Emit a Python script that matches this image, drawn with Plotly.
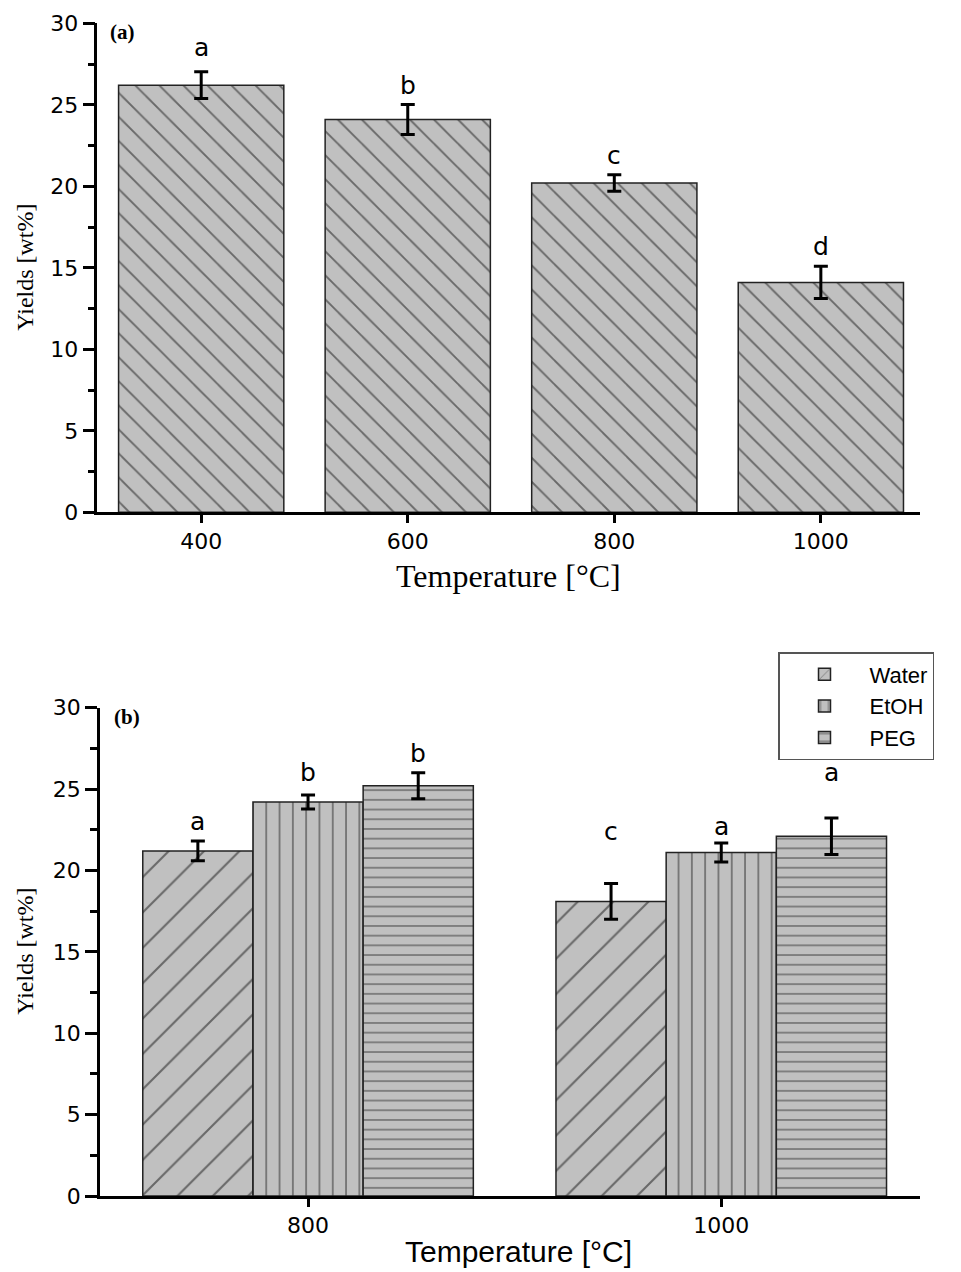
import plotly.graph_objects as go

# ---------------- data ----------------
temps_a = [400, 600, 800, 1000]
yield_a = [26.2, 24.1, 20.2, 14.1]
err_a = [0.82, 0.92, 0.51, 0.99]
letters_a = ["a", "b", "c", "d"]
label_y_a = [28.5, 26.2, 21.9, 16.3]

temps_b = [800, 1000]
series_names = ["Water", "EtOH", "PEG"]
yield_water = [21.2, 18.1]
yield_etoh = [24.2, 21.1]
yield_peg = [25.2, 22.1]
err_water = [0.61, 1.1]
err_etoh = [0.43, 0.58]
err_peg = [0.8, 1.12]
letters_water = ["a", "c"]
letters_etoh = ["b", "a"]
letters_peg = ["b", "a"]
label_y_water = [23.0, 22.4]
label_y_etoh = [26.0, 22.7]
label_y_peg = [27.2, 26.0]

y_ticks = [0, 5, 10, 15, 20, 25, 30]

# ---------------- styling ----------------
W, H = 961, 1272
OFF = 8  # page body margin offset


def fx(px):
    return (px - OFF) / W


def fy(py):
    return 1 - (py - OFF) / H


BARGAP = 0.2
FILL = "#c0c0c0"
HATCH = "#111111"
SANS = "DejaVu Sans"
ARIAL = "Liberation Sans"
SERIF = "Liberation Serif"

fig = go.Figure()

# top panel
fig.add_trace(go.Bar(
    x=temps_a, y=yield_a, xaxis="x", yaxis="y", showlegend=False,
    marker=dict(color=FILL, line=dict(color="#222", width=1.5),
                pattern=dict(shape="\\", bgcolor=FILL, fgcolor=HATCH,
                             size=17, solidity=0.11)),
    error_y=dict(type="data", array=err_a, color="black", thickness=3, width=7),
))

patterns = [("/", 25, 0.085), ("|", 13.3, 0.12), ("-", 9.7, 0.15)]
yb = [yield_water, yield_etoh, yield_peg]
eb = [err_water, err_etoh, err_peg]
for name, ys, es, (shape, size, sol) in zip(series_names, yb, eb, patterns):
    fig.add_trace(go.Bar(
        x=temps_b, y=ys, name=name, xaxis="x2", yaxis="y2",
        marker=dict(color=FILL, line=dict(color="#222", width=1.5),
                    pattern=dict(shape=shape, bgcolor=FILL, fgcolor=HATCH,
                                 size=size, solidity=sol)),
        error_y=dict(type="data", array=es, color="black", thickness=3, width=7),
    ))

annotations = []
for t, lab, ly in zip(temps_a, letters_a, label_y_a):
    annotations.append(dict(x=t, y=ly, xref="x", yref="y", text=lab, showarrow=False,
                            font=dict(family=SANS, size=25, color="black"),
                            xanchor="center", yanchor="middle"))

bar_w = (temps_b[1] - temps_b[0]) * (1 - BARGAP) / len(series_names)
labs_b = [letters_water, letters_etoh, letters_peg]
laby_b = [label_y_water, label_y_etoh, label_y_peg]
for i, (labs, lys) in enumerate(zip(labs_b, laby_b)):
    for t, lab, ly in zip(temps_b, labs, lys):
        annotations.append(dict(x=t + (i - 1) * bar_w, y=ly, xref="x2", yref="y2", text=lab,
                                showarrow=False, font=dict(family=SANS, size=25, color="black"),
                                xanchor="center", yanchor="middle"))

# titles / panel labels
annotations += [
    dict(text="Yields [wt%]", textangle=-90, xref="paper", x=fx(25), yref="y domain", y=0.5,
         xanchor="center", yanchor="middle", showarrow=False,
         font=dict(family=SERIF, size=24, color="black")),
    dict(text="Yields [wt%]", textangle=-90, xref="paper", x=fx(25), yref="y2 domain", y=0.5,
         xanchor="center", yanchor="middle", showarrow=False,
         font=dict(family=SERIF, size=24, color="black")),
    dict(text="Temperature [°C]", xref="x domain", x=0.5, yref="paper", y=fy(576),
         xanchor="center", yanchor="middle", showarrow=False,
         font=dict(family=SERIF, size=32, color="black")),
    dict(text="Temperature [°C]", xref="x2 domain", x=0.51, yref="paper", y=fy(1251),
         xanchor="center", yanchor="middle", showarrow=False,
         font=dict(family=ARIAL, size=30, color="black")),
    dict(text="<b>(a)</b>", xref="paper", x=fx(122), yref="paper", y=fy(32),
         xanchor="center", yanchor="middle", showarrow=False,
         font=dict(family=SERIF, size=21, color="black")),
    dict(text="<b>(b)</b>", xref="paper", x=fx(127), yref="paper", y=fy(717),
         xanchor="center", yanchor="middle", showarrow=False,
         font=dict(family=SERIF, size=21, color="black")),
]

yaxis_common = dict(
    range=[0, 30], tickvals=y_ticks, ticks="outside", ticklen=12, tickwidth=2.5,
    tickcolor="black", showline=True, linecolor="black", linewidth=2.5,
    showgrid=False, zeroline=False, tickfont=dict(family=SANS, size=22, color="black"),
    minor=dict(dtick=2.5, ticks="outside", ticklen=7, tickwidth=2.5, tickcolor="black"),
    automargin=False,
)
xaxis_common = dict(
    ticks="outside", ticklen=8, tickwidth=2.5, tickcolor="black", showline=True,
    linecolor="black", linewidth=2.5, showgrid=False, zeroline=False,
    tickfont=dict(family=SANS, size=22, color="black"), automargin=False,
)

fig.update_layout(
    width=W, height=H, margin=dict(l=0, r=0, t=0, b=0, autoexpand=False),
    paper_bgcolor="white", plot_bgcolor="white",
    barmode="group", bargap=BARGAP, bargroupgap=0,
    xaxis=dict(**xaxis_common, domain=[fx(97.3), fx(920)], range=[299.4, 1096],
               tickvals=temps_a, anchor="y"),
    yaxis=dict(**yaxis_common, domain=[fy(512.3), fy(23.3)], anchor="x"),
    xaxis2=dict(**xaxis_common, domain=[fx(100), fx(920)], range=[699.3, 1096.2],
                tickvals=temps_b, anchor="y2"),
    yaxis2=dict(**yaxis_common, domain=[fy(1196), fy(707.7)], anchor="x2"),
    legend=dict(x=fx(778), y=fy(652), xanchor="left", yanchor="top",
                bordercolor="#555", borderwidth=1.5, bgcolor="white",
                font=dict(family=ARIAL, size=22, color="black"), tracegroupgap=0,
                itemwidth=80),
    annotations=annotations,
)

fig.write_html("out.html")
